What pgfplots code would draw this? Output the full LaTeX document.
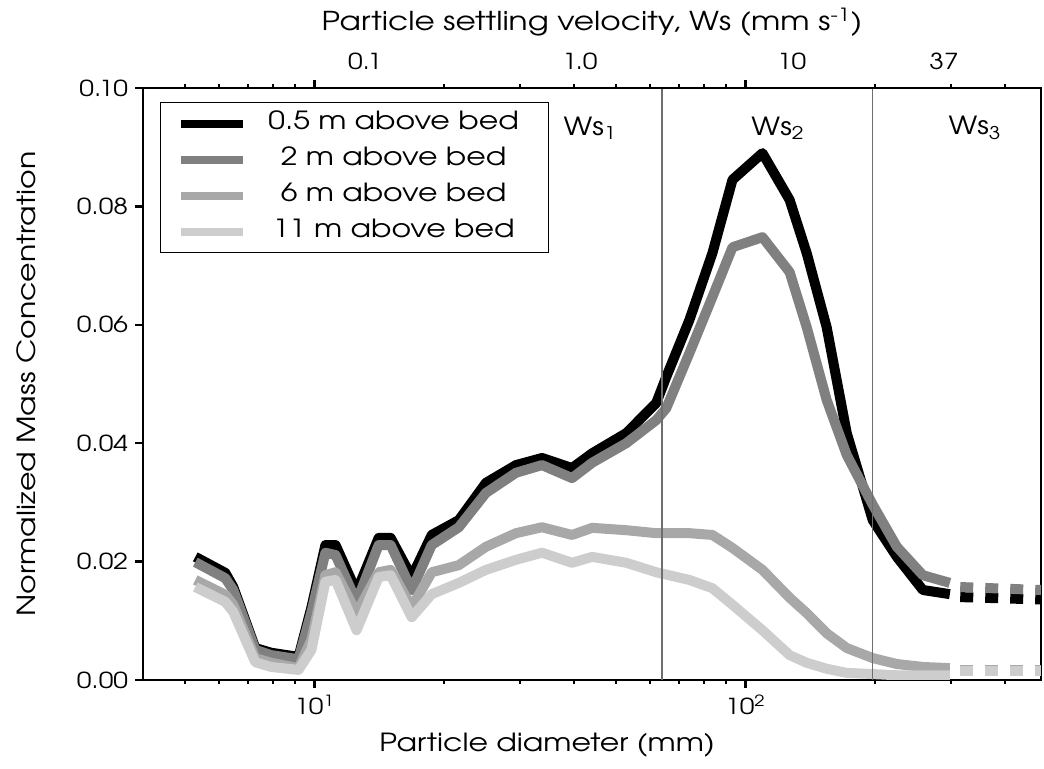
\documentclass[border=0pt]{standalone}
\usepackage{pgfplots}
\usepackage{pgfplotstable}
\pgfplotsset{compat=1.18}
\usepackage{fontspec}
\setmainfont{TeX Gyre Adventor}[FakeStretch=1.2]
\definecolor{c2}{HTML}{808080}
\definecolor{c6}{HTML}{A8A8A8}
\definecolor{c11}{HTML}{CDCDCD}
\definecolor{vl}{HTML}{6E6E6E}

\pgfplotstableread{
d b g2 g6 g11
5.29 0.0208 0.0199 0.0169 0.0157
6.21 0.0181 0.0172 0.0144 0.0132
6.48 0.0157 0.0152 0.0127 0.0115
7.29 0.0054 0.0051 0.0037 0.0030
7.94 0.0046 0.0042 0.0029 0.0022
9.18 0.0039 0.0035 0.0020 0.0017
9.84 0.0123 0.0115 0.0068 0.0051
10.6 0.0228 0.0215 0.0177 0.0166
11.19 0.0228 0.0211 0.0182 0.0169
12.52 0.0149 0.0132 0.0113 0.0084
14.09 0.0240 0.0228 0.0182 0.0174
15.02 0.0240 0.0228 0.0186 0.0177
16.81 0.0174 0.0152 0.0123 0.0106
18.71 0.0245 0.0228 0.0182 0.0145
21.62 0.0270 0.0258 0.0194 0.0164
24.99 0.0333 0.0316 0.0225 0.0186
29.34 0.0363 0.0350 0.0248 0.0203
33.72 0.0375 0.0363 0.0258 0.0215
39.59 0.0358 0.0341 0.0245 0.0198
44.09 0.0383 0.0367 0.0257 0.0208
52.89 0.0417 0.0400 0.0253 0.0198
62.09 0.0468 0.0439 0.0248 0.0182
65.5 0.0512 0.0459 0.0248 0.0178
74.1 0.0608 0.0552 0.0248 0.0169
83.8 0.0721 0.0647 0.0245 0.0155
93.3 0.0845 0.0731 0.0223 0.0127
109.5 0.0890 0.0748 0.0186 0.0084
126.6 0.0811 0.0689 0.0139 0.0042
138.7 0.0721 0.0596 0.0113 0.0029
154.3 0.0596 0.0473 0.0079 0.0019
171.8 0.0417 0.0380 0.0054 0.0012
197.4 0.0270 0.0296 0.0037 0.0010
224.5 0.0208 0.0225 0.0027 0.0008
258 0.0152 0.0177 0.0022 0.0008
298 0.0145 0.0164 0.0020 0.0008
}\data

\begin{document}
\begin{tikzpicture}
\begin{axis}[
  scale only axis, width=449pt, height=296pt,
  xmode=log, xmin=4, xmax=485, ymin=0, ymax=0.1,
  axis line style={line width=1.2pt},
  tick align=outside,
  xtick={10,100}, xticklabels={10\textsuperscript{1},10\textsuperscript{2}},
  minor xtick={5,6,7,8,9,20,30,40,50,60,70,80,90,200,300,400},
  xtick pos=both, ytick pos=left,
  ytick={0,0.02,0.04,0.06,0.08,0.1},
  yticklabel style={/pgf/number format/.cd, fixed, fixed zerofill, precision=2},
  /pgf/number format/assume math mode=true,
  major tick length=4pt, minor tick length=2pt,
  every major tick/.style={line width=1.2pt, black},
  every minor tick/.style={line width=1pt, black},
  tick label style={font=\fontsize{11}{13}\selectfont},
  xlabel={Particle diameter (mm)}, ylabel={Normalized Mass Concentration},
  label style={font=\fontsize{12.5}{14}\selectfont},
  xlabel style={at={(axis description cs:0.45,-0.11)}, anchor=center},
  ylabel style={at={(axis description cs:-0.13,0.5)}, anchor=center},
  legend style={at={(0,1)}, anchor=north west, xshift=8.5pt, yshift=-7pt,
    draw=black, line width=0.6pt, inner xsep=8pt, inner ysep=1.5pt,
    column sep=4pt,
    font=\fontsize{12.5}{14}\selectfont,
    nodes={text width=133pt, align=center, text height=9pt, text depth=3pt, inner sep=3pt}},
  legend image code/.code={\draw[#1, line width=4pt] (0pt,0pt) -- (31pt,0pt);},
  every axis plot/.append style={line join=round},
]
\addplot[black, line width=5pt] table[x=d, y=b] {\data};
\addlegendentry{0.5 m above bed}
\addplot[c2, line width=5pt] table[x=d, y=g2] {\data};
\addlegendentry{2 m above bed}
\addplot[c6, line width=5pt] table[x=d, y=g6] {\data};
\addlegendentry{6 m above bed}
\addplot[c11, line width=5pt] table[x=d, y=g11] {\data};
\addlegendentry{11 m above bed}
\addplot[black, line width=5pt, dash pattern=on 6.5pt off 6pt, forget plot] coordinates {(315,0.0140) (485,0.0136)};
\addplot[c2, line width=5pt, dash pattern=on 6.5pt off 6pt, forget plot] coordinates {(315,0.0157) (485,0.0152)};
\addplot[c6, line width=5pt, dash pattern=on 6.5pt off 6pt, forget plot] coordinates {(315,0.0017) (485,0.0017)};
\addplot[c11, line width=5pt, dash pattern=on 6.5pt off 6pt, forget plot] coordinates {(315,0.0015) (485,0.0015)};
\addplot[vl, line width=0.6pt, forget plot] coordinates {(64,0) (64,0.1)};
\addplot[vl, line width=0.6pt, forget plot] coordinates {(197,0) (197,0.1)};
\node[font=\fontsize{12.5}{14}\selectfont] at (axis cs:43.6,0.0932) {Ws\textsubscript{1}};
\node[font=\fontsize{12.5}{14}\selectfont] at (axis cs:119,0.0932) {Ws\textsubscript{2}};
\node[font=\fontsize{12.5}{14}\selectfont] at (axis cs:341,0.0932) {Ws\textsubscript{3}};
\end{axis}
\begin{axis}[
  scale only axis, width=449pt, height=296pt,
  xmode=log, xmin=4, xmax=485, ymin=0, ymax=0.1,
  axis x line*=top, axis y line=none,
  axis line style={line width=1.2pt},
  xtick={13.1,41.3,128,289}, xticklabels={0.1,1.0,10,37},
  major tick length=0pt, minor xtick={},
  tick label style={font=\fontsize{11}{13}\selectfont},
  xticklabel style={yshift=5.5pt},
  xlabel={Particle settling velocity, Ws (mm s\textsuperscript{-1})},
  xlabel style={font=\fontsize{13}{15}\selectfont, yshift=1.5pt},
]
\end{axis}
\pgfresetboundingbox
\useasboundingbox (-71.5pt,-44.5pt) rectangle (450.5pt,340pt);
\end{tikzpicture}
\end{document}
